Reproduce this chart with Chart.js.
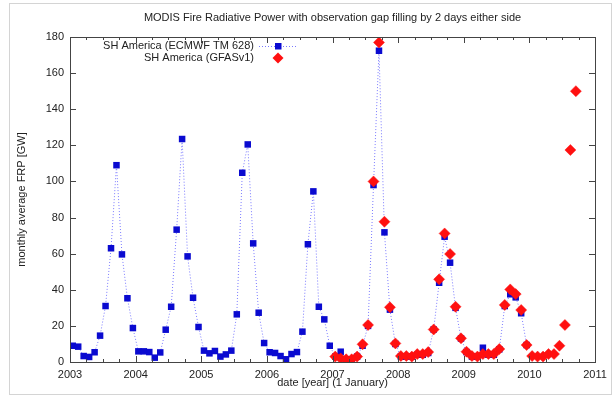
<!DOCTYPE html>
<html>
<head>
<meta charset="utf-8">
<script src="https://cdn.jsdelivr.net/npm/chart.js@4/dist/chart.umd.min.js"></script>
<style>
  html, body { margin: 0; padding: 0; background: #fff; }
  #wrap { position: relative; width: 616px; height: 398px; }
</style>
</head>
<body>
<div id="wrap"><canvas id="frpChart" width="616" height="398"></canvas></div>
<script>
const chartTitle = 'MODIS Fire Radiative Power with observation gap filling by 2 days either side';
const xTitle = 'date [year] (1 January)';
const yTitle = 'monthly average FRP [GW]';
const seriesNames = ['SH America (ECMWF TM 628)', 'SH America (GFASv1)'];

// monthly values, starting January of the start year
const ecmwfStartYear = 2003;
const ecmwfFRP = [
    9, 8.5, 3.3, 2.8, 5.4, 14.6, 31, 63, 109, 59.6, 35.3, 18.8,
    5.9, 5.9, 5.5, 2.4, 5.3, 17.9, 30.6, 73.3, 123.5, 58.5, 35.6, 19.4,
    6.3, 4.8, 6.1, 3, 4.2, 6.3, 26.4, 104.8, 120.5, 65.7, 27.3, 10.5,
    5.4, 5, 3.3, 1.5, 4.4, 5.5, 16.8, 65.2, 94.5, 30.6, 23.6, 9,
    3, 5.7, 1.5, 1.5, 3, 9, 20, 98, 172.4, 71.8, 29, 10,
    3, 3, 3, 4, 4, 5, 18, 43.9, 69.4, 55, 30, 13,
    5.5, 3, 3, 7.9, 4, 4, 7, 31, 37.5, 35.8, 27, 9.4
];
const gfasStartYear = 2007;
const gfasFRP = [
    3, 2, 1.5, 1.5, 3, 9.8, 20.5, 100, 177, 77.7, 30.3, 10.3,
    3.3, 3.3, 3, 4.4, 4.4, 5.5, 18, 45.8, 71.2, 59.8, 30.6, 13.1,
    5.7, 3.3, 3, 4.4, 4.4, 4.4, 7.2, 31.6, 40.2, 37.6, 28.8, 9.4,
    3.3, 3, 3, 4.4, 4.4, 9, 20.5, 117.4, 150
];
const yearTicks = [2003, 2004, 2005, 2006, 2007, 2008, 2009, 2010, 2011];
const frpTicks = [0, 20, 40, 60, 80, 100, 120, 140, 160, 180];

// points sit in the middle of each month
function toPoints(startYear, values) {
    return values.map((v, i) => ({ x: startYear + (i + 0.5) / 12, y: v }));
}

const FONT = '"Liberation Sans", Arial, sans-serif';
const BLUE = '#0a0ad0';
const RED = '#ff1010';
const AXIS = '#444';

// Frame, title, inward ticks and legend, gnuplot style ...........................
const gnuplotLook = {
    id: 'gnuplotLook',
    beforeDraw(chart) {
        const ctx = chart.ctx;
        ctx.save();
        ctx.strokeStyle = '#d4d4d4';
        ctx.lineWidth = 1;
        ctx.strokeRect(9.5, 3.5, 602, 391);
        ctx.restore();
    },
    afterDatasetsDraw(chart) {
        const ctx = chart.ctx;
        const a = chart.chartArea;
        const xs = chart.scales.x;
        const ys = chart.scales.y;
        ctx.save();

        // title over the plot area
        ctx.fillStyle = '#222';
        ctx.font = '11px ' + FONT;
        ctx.textAlign = 'center';
        ctx.textBaseline = 'middle';
        ctx.fillText(chartTitle, (a.left + a.right) / 2, 18);

        // box + ticks
        ctx.strokeStyle = AXIS;
        ctx.lineWidth = 1;
        ctx.beginPath();
        const yr0 = yearTicks[0], yr1 = yearTicks[yearTicks.length - 1];
        for (let q = yr0 * 4; q <= yr1 * 4; q++) {
            const px = Math.round(xs.getPixelForValue(q / 4)) + 0.5;
            const len = q % 4 === 0 ? 6 : 3;
            ctx.moveTo(px, a.bottom); ctx.lineTo(px, a.bottom - len);
            ctx.moveTo(px, a.top); ctx.lineTo(px, a.top + len);
        }
        frpTicks.forEach(v => {
            const py = Math.round(ys.getPixelForValue(v)) + 0.5;
            ctx.moveTo(a.left, py); ctx.lineTo(a.left + 6, py);
            ctx.moveTo(a.right, py); ctx.lineTo(a.right - 6, py);
        });
        ctx.stroke();
        ctx.strokeRect(Math.round(a.left) + 0.5, Math.round(a.top) + 0.5,
            Math.round(a.right - a.left), Math.round(a.bottom - a.top));

        // legend, text right aligned then sample
        const textRight = 254;
        const sampleX = 278;
        const rows = [46, 58];
        ctx.font = '11px ' + FONT;
        ctx.textAlign = 'right';
        ctx.fillStyle = '#222';
        seriesNames.forEach((name, i) => ctx.fillText(name, textRight, rows[i]));

        ctx.strokeStyle = '#7a7aff';
        ctx.setLineDash([1, 2]);
        ctx.beginPath();
        ctx.moveTo(259, rows[0] + 0.5);
        ctx.lineTo(296, rows[0] + 0.5);
        ctx.stroke();
        ctx.setLineDash([]);
        ctx.fillStyle = BLUE;
        ctx.fillRect(sampleX - 3, rows[0] - 3, 6.5, 6.5);
        ctx.fillStyle = RED;
        ctx.beginPath();
        ctx.moveTo(sampleX, rows[1] - 5.5);
        ctx.lineTo(sampleX + 5.5, rows[1]);
        ctx.lineTo(sampleX, rows[1] + 5.5);
        ctx.lineTo(sampleX - 5.5, rows[1]);
        ctx.closePath();
        ctx.fill();

        ctx.restore();
    }
};

document.addEventListener('DOMContentLoaded', function() {
    const ctx = document.getElementById('frpChart').getContext('2d');

    new Chart(ctx, {
        type: 'line',
        data: {
            datasets: [{
                label: seriesNames[1],
                data: toPoints(gfasStartYear, gfasFRP),
                showLine: false,
                pointStyle: 'rectRot',
                pointRadius: 5.5,
                pointBackgroundColor: RED,
                pointBorderColor: RED,
                pointBorderWidth: 0.5,
                order: 0
            }, {
                label: seriesNames[0],
                data: toPoints(ecmwfStartYear, ecmwfFRP),
                borderColor: '#7a7aff',
                borderWidth: 1,
                borderDash: [1, 2],
                tension: 0,
                pointStyle: 'rect',
                pointRadius: 4.6,
                pointBackgroundColor: BLUE,
                pointBorderColor: BLUE,
                pointBorderWidth: 0,
                order: 1
            }]
        },
        options: {
            responsive: false,
            animation: false,
            layout: { padding: { top: 37, right: 21, left: 0, bottom: 0 } },
            plugins: {
                legend: { display: false },
                title: { display: false },
                tooltip: { enabled: false }
            },
            scales: {
                x: {
                    type: 'linear',
                    min: yearTicks[0],
                    max: yearTicks[yearTicks.length - 1],
                    afterBuildTicks: s => { s.ticks = yearTicks.map(v => ({ value: v })); },
                    afterFit: s => { s.height = 36; },
                    grid: { display: false, drawTicks: false },
                    border: { display: false },
                    ticks: {
                        padding: 6,
                        maxRotation: 0,
                        color: '#222',
                        font: { family: FONT, size: 11 },
                        callback: v => String(v)
                    },
                    title: {
                        display: true,
                        text: xTitle,
                        color: '#222',
                        font: { family: FONT, size: 11 },
                        padding: { top: 0, bottom: 8 }
                    }
                },
                y: {
                    min: frpTicks[0],
                    max: frpTicks[frpTicks.length - 1],
                    afterBuildTicks: s => { s.ticks = frpTicks.map(v => ({ value: v })); },
                    afterFit: s => { s.width = 70; },
                    grid: { display: false, drawTicks: false },
                    border: { display: false },
                    ticks: {
                        padding: 6,
                        color: '#222',
                        font: { family: FONT, size: 11 }
                    },
                    title: {
                        display: true,
                        text: yTitle,
                        color: '#222',
                        font: { family: FONT, size: 11 },
                        padding: { top: 15, bottom: 0 }
                    }
                }
            }
        },
        plugins: [gnuplotLook]
    });
});
</script>
</body>
</html>
